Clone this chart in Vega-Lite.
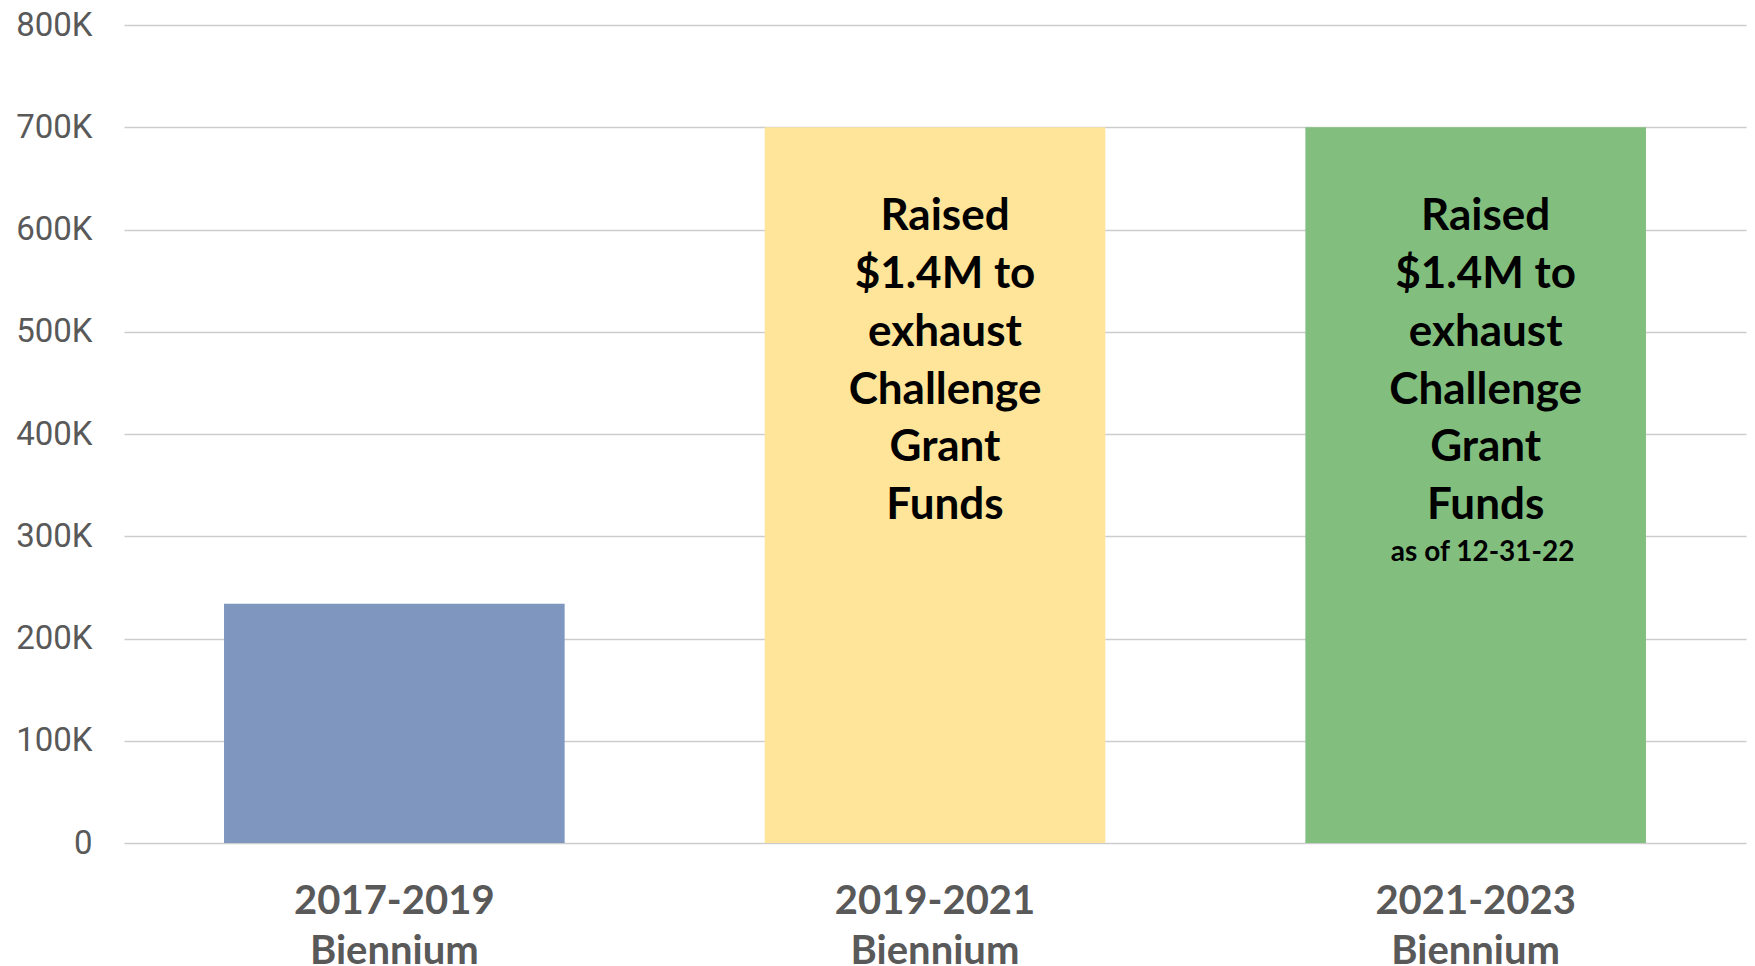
{
  "$schema": "https://vega.github.io/schema/vega-lite/v6.json",
  "width": 1622,
  "height": 818,
  "autosize": {"type": "none"},
  "padding": {"left": 124, "top": 25, "right": 9, "bottom": 123},
  "background": "white",
  "config": {
    "view": {"stroke": null},
    "axis": {"zindex": 1}
  },
  "datasets": {
    "bars": [
      {"period": "2017-2019 Biennium", "amount": 234000, "color": "#7f96bf"},
      {"period": "2019-2021 Biennium", "amount": 700000, "color": "#fee599"},
      {"period": "2021-2023 Biennium", "amount": 700000, "color": "#82bf7f"}
    ],
    "notes": [
      {"period": "2019-2021 Biennium", "pos": 611800, "note": "Raised\n$1.4M to\nexhaust\nChallenge\nGrant\nFunds"},
      {"period": "2021-2023 Biennium", "pos": 611800, "note": "Raised\n$1.4M to\nexhaust\nChallenge\nGrant\nFunds"}
    ],
    "subnotes": [
      {"period": "2021-2023 Biennium", "pos": 284000, "note": "as of 12-31-22"}
    ]
  },
  "encoding": {
    "x": {
      "field": "period",
      "type": "nominal",
      "sort": null,
      "scale": {"paddingInner": 0.37, "paddingOuter": 0.185},
      "axis": {
        "title": null,
        "labelAngle": 0,
        "labelExpr": "split(datum.label, ' ')",
        "labelFont": "Lato",
        "labelFontWeight": "bold",
        "labelFontSize": 40,
        "labelLineHeight": 50,
        "labelLimit": 0,
        "labelColor": "#595959",
        "labelPadding": 38,
        "ticks": false,
        "domain": false
      }
    }
  },
  "layer": [
    {
      "data": {"name": "bars"},
      "mark": {"type": "bar"},
      "encoding": {
        "y": {
          "field": "amount",
          "type": "quantitative",
          "scale": {"domain": [0, 800000], "nice": false},
          "axis": {
            "title": null,
            "values": [0, 100000, 200000, 300000, 400000, 500000, 600000, 700000, 800000],
            "labelExpr": "datum.value == 0 ? '0' : (datum.value / 1000) + 'K'",
            "labelFont": "Roboto",
            "labelFontSize": 33,
            "labelColor": "#595959",
            "labelPadding": 32,
            "ticks": false,
            "domain": false,
            "grid": true,
            "gridColor": "#000000",
            "gridOpacity": 0.2,
            "gridWidth": 1.6
          }
        },
        "color": {"field": "color", "type": "nominal", "scale": null, "legend": null}
      }
    },
    {
      "data": {"name": "notes"},
      "mark": {
        "type": "text",
        "lineBreak": "\n",
        "font": "Lato",
        "fontWeight": "bold",
        "fontSize": 44,
        "lineHeight": 57.7,
        "color": "#000000",
        "align": "center",
        "baseline": "middle",
        "dx": 10
      },
      "encoding": {
        "y": {"field": "pos", "type": "quantitative"},
        "text": {"field": "note", "type": "nominal"}
      }
    },
    {
      "data": {"name": "subnotes"},
      "mark": {
        "type": "text",
        "font": "Lato",
        "fontWeight": "bold",
        "fontSize": 28,
        "color": "#000000",
        "align": "center",
        "baseline": "middle",
        "dx": 7
      },
      "encoding": {
        "y": {"field": "pos", "type": "quantitative"},
        "text": {"field": "note", "type": "nominal"}
      }
    }
  ]
}
